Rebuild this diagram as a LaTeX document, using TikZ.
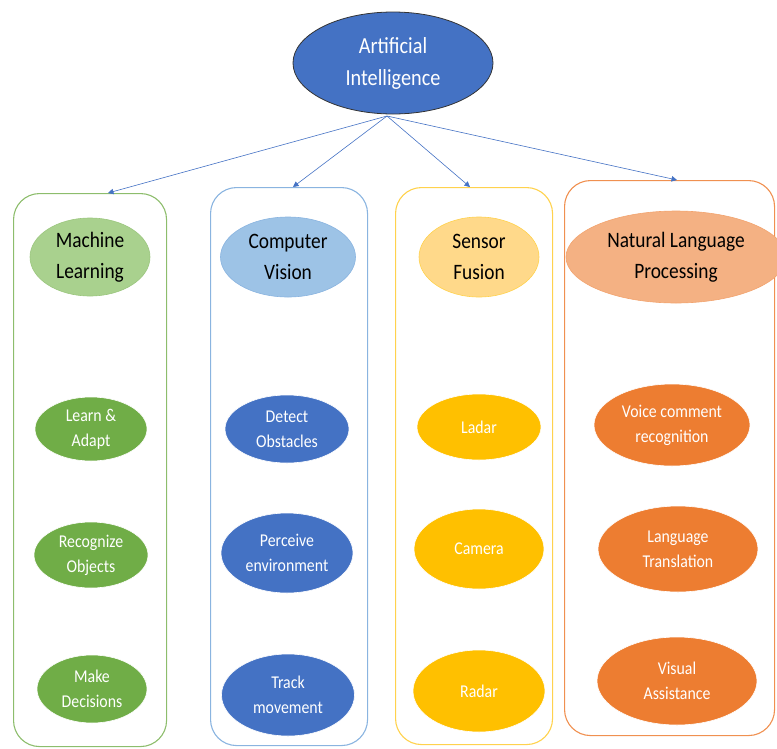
\documentclass[tikz,border=0pt]{standalone}
\usepackage{fontspec}
\setmainfont{Carlito}[FakeStretch=0.88]
\usetikzlibrary{shapes.geometric,arrows.meta}
\definecolor{aiblue}{HTML}{4472C4}
\definecolor{mlg}{HTML}{70AD47}
\definecolor{mlgl}{HTML}{A9D18E}
\definecolor{cvb}{HTML}{4472C4}
\definecolor{cvbo}{HTML}{8AB4E0}
\definecolor{cvbl}{HTML}{9DC3E6}
\definecolor{sfy}{HTML}{FFC000}
\definecolor{sfyo}{HTML}{FFD24D}
\definecolor{sfyl}{HTML}{FFD98A}
\definecolor{nlo}{HTML}{ED7D31}
\definecolor{nlol}{HTML}{F4B183}
\definecolor{arr}{HTML}{4472C4}
\tikzset{
  colbox/.style={draw, rounded corners=26pt, line width=1.1pt, inner sep=0pt, anchor=north west},
  head/.style={ellipse, inner sep=0pt, align=center, text=black, font=\fontsize{22}{31}\selectfont, line width=0.6pt},
  item/.style={ellipse, inner sep=0pt, align=center, text=white, font=\fontsize{18}{25}\selectfont, draw=white, line width=0.6pt},
  link/.style={draw=arr, line width=0.6pt, -{Triangle[length=5.5pt,width=5.5pt]}}
}
\begin{document}
\begin{tikzpicture}[x=1pt,y=-1pt]
\useasboundingbox (0,0) rectangle (777,748);
% AI
\node[ellipse, draw=black!80, line width=0.8pt, fill=aiblue, text=white, align=center, inner sep=0pt,
  minimum width=200pt, minimum height=102pt, font=\fontsize{23}{32}\selectfont] (ai) at (393,63) {Artificial\\Intelligence};
% boxes
\node[colbox, draw=mlg!80, minimum width=153pt, minimum height=553pt] (b1) at (13,193) {};
\node[colbox, draw=cvbo, minimum width=157pt, minimum height=558pt] (b2) at (210,187) {};
\node[colbox, draw=sfyo, minimum width=157pt, minimum height=557pt] (b3) at (395,187) {};
\node[colbox, draw=nlo!85, minimum width=210pt, minimum height=555pt] (b4) at (564,180) {};
% headers
\node[head, fill=mlgl, draw=mlg!70, minimum width=120pt, minimum height=78pt] (h1) at (90,257) {Machine\\Learning};
\node[head, fill=cvbl, draw=cvbo, minimum width=135pt, minimum height=80pt] (h2) at (288,257) {Computer\\Vision};
\node[head, fill=sfyl, draw=sfyo, minimum width=120pt, minimum height=80pt] (h3) at (479,257) {Sensor\\Fusion};
\node[head, fill=nlol, draw=nlo!70, minimum width=220pt, minimum height=92pt] (h4) at (676,257) {Natural Language\\Processing};
% items
\node[item, fill=mlg, minimum width=112pt, minimum height=64pt] (m1) at (91,429) {Learn \&\\Adapt};
\node[item, fill=mlg, minimum width=114pt, minimum height=66pt] (m2) at (91,555) {Recognize\\Objects};
\node[item, fill=mlg, minimum width=110pt, minimum height=68pt] (m3) at (92,689) {Make\\Decisions};
\node[item, fill=cvb, minimum width=124pt, minimum height=68pt] (c1) at (287,429) {Detect\\Obstacles};
\node[item, fill=cvb, minimum width=132pt, minimum height=80pt] (c2) at (287,553) {Perceive\\environment};
\node[item, fill=cvb, minimum width=133pt, minimum height=82pt] (c3) at (288,695) {Track\\movement};
\node[item, fill=sfy, minimum width=124pt, minimum height=66pt] (s1) at (479,427) {Ladar};
\node[item, fill=sfy, minimum width=130pt, minimum height=80pt] (s2) at (479,549) {Camera};
\node[item, fill=sfy, minimum width=132pt, minimum height=82pt] (s3) at (479,691) {Radar};
\node[item, fill=nlo, minimum width=156pt, minimum height=82pt] (n1) at (672,425) {Voice comment\\recognition};
\node[item, fill=nlo, minimum width=160pt, minimum height=86pt] (n2) at (678,549) {Language\\Translation};
\node[item, fill=nlo, minimum width=160pt, minimum height=88pt] (n3) at (677,681) {Visual\\Assistance};
% arrows
\coordinate (src) at (387,116);
\draw[link] (src) -- (b1.north west -| 108,0);
\draw[link] (src) -- (b2.north west -| 293,0);
\draw[link] (src) -- (b3.north west -| 470,0);
\draw[link] (src) -- (b4.north west -| 677,0);
\end{tikzpicture}
\end{document}
